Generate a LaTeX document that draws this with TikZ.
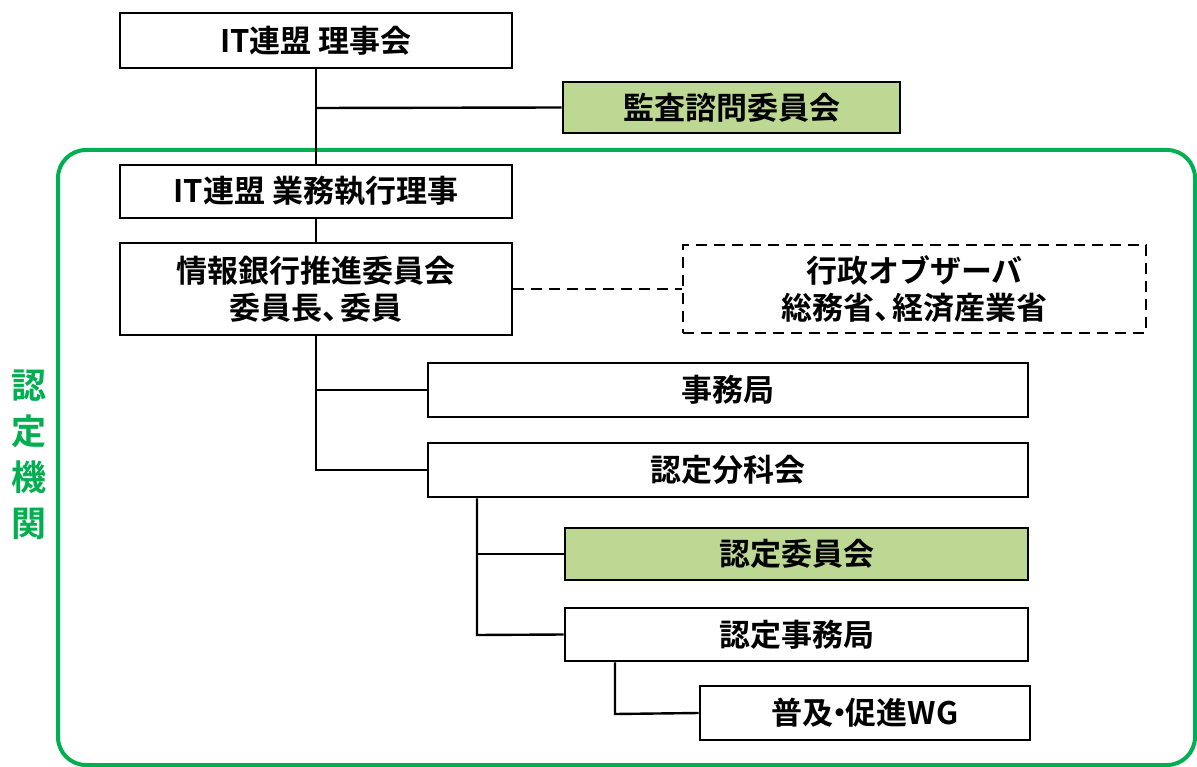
\documentclass[tikz,border=0pt]{standalone}
\usepackage{fontspec}
\setmainfont{Noto Sans CJK JP}[BoldFont={* Bold}]
\definecolor{frameg}{RGB}{0,176,80}
\definecolor{boxg}{RGB}{188,216,146}
\newcommand{\tou}{、\kern-0.4em}
\begin{document}
\begin{tikzpicture}[x=1pt,y=-1pt,
  box/.style={draw=black,line width=2.8pt,fill=white,inner sep=0pt,align=center,
    font=\fontsize{31}{37}\selectfont\bfseries},
  gbox/.style={box,fill=boxg},
  dbox/.style={box,dash pattern=on 11pt off 7pt,line width=2.8pt},
  conn/.style={line width=2.4pt,black},
  dconn/.style={line width=2.6pt,black,dash pattern=on 11pt off 7pt}]
\useasboundingbox (0,0) rectangle (1197,767);
\fill[white] (0,0) rectangle (1197,767);
% frame
\draw[frameg,line width=4pt,rounded corners=28pt] (58,150) rectangle (1195,765);
\node[text=frameg,font=\fontsize{35}{46}\selectfont\bfseries,align=center,inner sep=0pt] (lab) at (29,455) {認\\定\\機\\関};
% boxes
\node[box,minimum width=392pt,minimum height=55pt] (a) at (316,40.5) {IT連盟\ 理事会};
\node[gbox,minimum width=337pt,minimum height=51pt] (k) at (731.5,107.5) {監査諮問委員会};
\node[box,minimum width=392pt,minimum height=53pt] (b) at (316,191.5) {IT連盟\ 業務執行理事};
\node[box,minimum width=392pt,minimum height=92pt] (c) at (316,289) {情報銀行推進委員会\\委員長\tou 委員};
\node[dbox,minimum width=463pt,minimum height=88pt] (o) at (914.5,289) {行政オブザーバ\\総務省\tou 経済産業省};
\node[box,minimum width=600pt,minimum height=54pt] (d) at (728,390) {事務局};
\node[box,minimum width=600pt,minimum height=54pt] (e) at (728,470) {認定分科会};
\node[gbox,minimum width=463pt,minimum height=52pt] (f) at (796.5,554) {認定委員会};
\node[box,minimum width=463pt,minimum height=53pt] (g) at (796.5,634.5) {認定事務局};
\node[box,minimum width=330pt,minimum height=54pt] (h) at (865,713) {普及\kern-0.3em・\kern-0.3em 促進WG};
% connectors
\coordinate (j1) at (316,108);
\coordinate (j2) at (316,390);
\coordinate (j3) at (316,470);
\coordinate (j4) at (477,554);
\coordinate (j5) at (477,635);
\coordinate (j6) at (615,714);
\draw[conn] (a.south) -- (b.north);
\draw[conn] (j1) -- (k.west);
\draw[conn] (b.south) -- (c.north);
\draw[conn] (c.south) -- (j3) -- (e.west);
\draw[conn] (j2) -- (d.west);
\draw[conn] (e.south -| j5) -- (j5) -- (g.west);
\draw[conn] (j4) -- (f.west);
\draw[conn] (g.south -| j6) -- (j6) -- (h.west);
\draw[dconn] (c.east) -- (o.west);
\end{tikzpicture}
\end{document}
